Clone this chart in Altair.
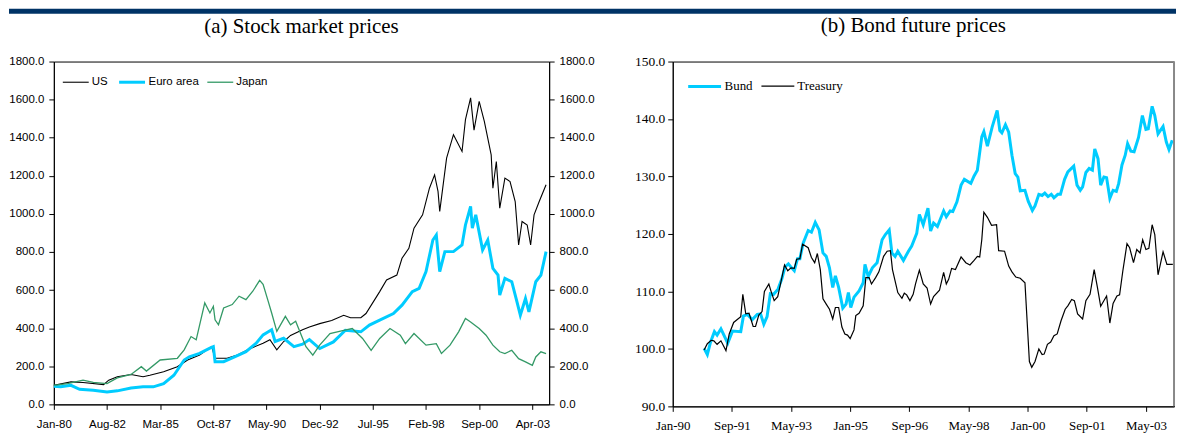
import altair as alt
import pandas as pd

# ---------------- Panel (a): stock market prices (months since Jan-80) ----------------
a_tick_pos = [0, 31, 62, 93, 124, 155, 186, 217, 248, 279]
a_tick_labels = ["Jan-80", "Aug-82", "Mar-85", "Oct-87", "May-90", "Dec-92",
                 "Jul-95", "Feb-98", "Sep-00", "Apr-03"]
a_series = ["US", "Euro area", "Japan"]

us_m = [0, 10, 17, 29, 32, 37, 45, 52, 56, 64, 72, 78, 85, 92, 94, 101, 107, 114, 122, 126,
        130, 134, 138, 145, 149, 155, 162, 169, 173, 179, 182, 190, 194, 200, 203, 207, 210,
        215, 219, 222, 224, 225, 229, 233, 238, 240, 243, 245, 248, 251, 255, 256, 258, 260,
        263, 266, 269, 271, 273, 276, 278, 280, 283, 287]
us_v = [100, 118, 115, 104, 127, 145, 157, 145, 153, 171, 198, 233, 259, 303, 242, 242, 259,
        291, 321, 339, 286, 330, 362, 392, 406, 424, 440, 468, 455, 455, 477, 592, 653, 679,
        767, 819, 925, 995, 1135, 1205, 1118, 1013, 1293, 1416, 1328, 1495, 1609, 1440, 1591,
        1486, 1310, 1135, 1275, 1030, 1188, 1170, 1065, 837, 960, 942, 837, 995, 1065, 1153]

eu_m = [0, 4, 10, 15, 23, 31, 37, 45, 52, 58, 64, 70, 76, 79, 85, 91, 93, 94, 99, 107, 112,
        118, 122, 127, 129, 134, 140, 145, 149, 155, 163, 170, 179, 184, 190, 198, 203, 209,
        213, 217, 221, 223, 225, 228, 233, 238, 240, 243, 244, 246, 250, 253, 256, 259, 260,
        263, 267, 270, 272, 275, 277, 281, 284, 287]
eu_v = [95, 92, 100, 79, 74, 65, 71, 86, 92, 92, 109, 153, 233, 250, 268, 295, 303, 224, 224,
        256, 277, 321, 365, 392, 330, 347, 303, 316, 340, 293, 328, 389, 381, 416, 442, 477,
        521, 592, 609, 697, 863, 889, 697, 802, 802, 837, 942, 1039, 925, 995, 811, 863, 714,
        679, 574, 662, 644, 539, 468, 556, 486, 644, 679, 802]

jp_m = [0, 8, 17, 23, 31, 37, 45, 51, 54, 62, 72, 76, 80, 83, 88, 91, 93, 94, 96, 99, 104,
        108, 112, 116, 120, 122, 125, 127, 130, 135, 138, 141, 145, 147, 151, 155, 161, 169,
        174, 180, 185, 190, 196, 202, 205, 210, 217, 223, 226, 231, 236, 240, 243, 248, 252,
        256, 260, 263, 267, 271, 275, 279, 281, 284, 287]
jp_v = [100, 109, 127, 115, 109, 139, 157, 198, 175, 233, 242, 286, 356, 339, 533, 480, 515,
        444, 418, 506, 524, 568, 550, 594, 651, 630, 541, 480, 383, 462, 418, 436, 347, 303,
        258, 311, 372, 389, 398, 346, 284, 346, 398, 363, 319, 372, 311, 319, 267, 311, 381,
        451, 433, 398, 363, 311, 276, 267, 284, 240, 223, 205, 249, 276, 267]

a_y_ticks = [0, 200, 400, 600, 800, 1000, 1200, 1400, 1600, 1800]

# ---------------- Panel (b): bond future prices (months since Jan-90) ----------------
b_tick_pos = [0, 20, 40, 60, 80, 100, 120, 140, 160]
b_tick_labels = ["Jan-90", "Sep-91", "May-93", "Jan-95", "Sep-96", "May-98",
                 "Jan-00", "Sep-01", "May-03"]
b_series = ["Bund", "Treasury"]

bund_m = [10.6, 11.7, 12.8, 14.1, 15, 16.3, 18.6, 20.2, 23, 23.9, 25.2, 26.9, 28.6, 29.7,
          30.8, 31.9, 33, 34.1, 35.6, 36.9, 38, 39.1, 40.2, 41.1, 42.2, 43, 44.1, 45.8, 46.9,
          48.2, 49.5, 50.8, 51.9, 53, 54.1, 55, 56.1, 57.5, 58.6, 59.4, 60.2, 61.3, 63, 64.4,
          65, 66.1, 67.5, 69.1, 70.8, 71.9, 73.2, 74.1, 75.2, 76.1, 78, 79.7, 80.8, 82.5, 83.4,
          84.7, 86.3, 87.2, 88.2, 89.5, 91.6, 92.5, 93.8, 94.7, 96.1, 97.5, 98.6, 100.8, 101.9,
          103, 104.5, 105.2, 106.4, 108, 109.7, 110.6, 111.3, 112.5, 113.6, 114.7, 115.8,
          116.7, 117.5, 119.1, 120.2, 121.6, 122.5, 123.8, 124.9, 125.8, 126.9, 128, 128.9,
          130.2, 131.1, 132.5, 133.6, 135.6, 136.7, 137.8, 138.6, 139.7, 140.8, 141.9, 142.7,
          143.8, 144.7, 145.8, 146.7, 147.8, 148.9, 150, 150.8, 151.9, 153, 153.8, 154.9, 156,
          157.5, 158.8, 160, 160.8, 162.1, 163, 164.1, 165.8, 166.9, 167.8, 168.9]
bund_v = [100.1, 99.0, 101.2, 103.0, 102.4, 103.5, 101.0, 103.1, 103.0, 105.7, 106.0, 105.1,
          106.0, 106.1, 104.3, 105.6, 109.6, 109.5, 110.4, 112.2, 114.3, 114.8, 114.1, 113.6,
          115.7, 115.7, 118.4, 120.6, 120.3, 122.0, 120.7, 116.7, 116.1, 114.1, 110.7, 112.7,
          110.7, 107.1, 107.8, 109.8, 107.2, 109.0, 110.1, 111.5, 114.7, 112.6, 114.1, 115.0,
          119.0, 119.9, 120.7, 116.7, 116.1, 117.0, 115.4, 117.0, 117.9, 120.1, 123.4, 121.6,
          124.5, 120.5, 121.9, 121.3, 124.0, 123.0, 124.0, 123.9, 125.6, 128.5, 129.5, 128.8,
          130.1, 131.1, 136.9, 137.8, 135.3, 138.6, 141.5, 138.0, 137.6, 139.0, 137.7, 133.7,
          130.5, 129.9, 127.5, 127.6, 125.7, 124.1, 124.9, 126.9, 126.7, 127.1, 126.5, 126.9,
          126.3, 126.9, 126.9, 129.5, 130.8, 131.8, 128.5, 127.6, 128.2, 130.7, 131.4, 131.1,
          134.8, 133.1, 128.5, 129.9, 129.8, 126.2, 127.6, 127.4, 128.8, 132.0, 133.7, 135.7,
          134.4, 134.3, 136.8, 140.6, 138.2, 138.3, 142.2, 140.6, 137.4, 138.7, 136.0, 134.7,
          136.3]

tsy_m = [10.6, 11.7, 13, 13.9, 15, 16.3, 18, 19.1, 20.6, 23, 23.7, 24.7, 25.8, 27.2, 28, 29.1,
         30.2, 31, 32.5, 33.2, 34.3, 35.5, 36.9, 37.8, 38.9, 40, 41.1, 41.9, 43, 43.9, 45.8,
         46.9, 48, 48.9, 49.9, 50.8, 51.9, 53, 54.1, 55, 56.1, 57.2, 58.2, 59.1, 60, 61.3, 61.9,
         63, 64.4, 65.3, 66.4, 67.2, 68.6, 69.7, 71.3, 72.5, 73.6, 74.3, 75.2, 76.1, 77.5, 78.3,
         79.1, 80.2, 81.3, 82.1, 83.4, 84.7, 86, 87.2, 88.2, 90.2, 91.6, 92.5, 93.3, 94.3, 95.6,
         97.5, 99.1, 100.5, 101.9, 103, 103.8, 104.5, 105.2, 106.4, 107.8, 109.5, 110.2, 112.2,
         113.6, 114.7, 116, 117.5, 119.1, 120.6, 121.4, 122.5, 123.8, 124.9, 125.6, 126.7,
         127.8, 128.9, 130, 131.3, 132.7, 133.6, 134.9, 135.8, 136.9, 138.6, 139.7, 141.1,
         142.5, 143.6, 144.7, 146.7, 147.8, 148.9, 150.2, 151.1, 152.2, 153.6, 154.5, 155.8,
         156.9, 158, 158.9, 160, 161, 162.1, 163, 164.1, 165.8, 167.1, 169.1]
tsy_v = [99.8, 100.9, 101.5, 101.4, 100.8, 101.4, 99.7, 102.6, 104.6, 105.6, 109.5, 106.1,
         106.2, 103.9, 103.9, 105.9, 106.5, 110.0, 111.3, 110.1, 108.4, 109.1, 112.4, 114.6,
         113.6, 114.1, 114.0, 115.6, 115.7, 118.2, 117.6, 115.9, 115.0, 116.6, 113.8, 108.7,
         107.8, 106.9, 105.2, 107.2, 107.2, 103.8, 102.6, 102.4, 101.8, 103.3, 105.8, 106.2,
         107.5, 112.4, 112.4, 111.3, 112.4, 113.4, 116.1, 117.0, 117.1, 113.8, 111.8, 109.8,
         108.8, 109.7, 109.4, 108.4, 109.5, 111.3, 113.7, 111.3, 110.6, 107.8, 109.1, 110.2,
         113.3, 111.3, 112.1, 114.0, 113.8, 116.0, 115.0, 114.6, 115.4, 116.1, 116.0, 119.0,
         123.8, 122.9, 121.5, 121.6, 117.1, 117.0, 114.4, 113.4, 112.5, 112.3, 111.5, 97.8,
         96.8, 97.8, 100.0, 99.0, 99.1, 100.8, 101.2, 102.3, 102.6, 104.9, 106.9, 107.5, 108.6,
         108.4, 106.1, 105.2, 108.4, 109.5, 113.8, 110.7, 107.4, 109.2, 104.5, 107.9, 109.2,
         109.4, 113.6, 118.3, 117.6, 115.0, 117.3, 116.7, 119.0, 117.3, 117.5, 121.6, 119.9,
         112.9, 116.9, 114.7, 114.7]

b_y_ticks = [90, 100, 110, 120, 130, 140, 150]

# ---------------- styling constants ----------------
NAVY = "#003366"
CYAN = "#00CCFF"
GREEN = "#339966"
SANS = "Liberation Sans"
SERIF = "Liberation Serif"
WA, HA = 497, 344
WB, HB = 503, 346
LEFT = 45          # room left of panel (a) plot for its labels
TOTAL_W = 1171     # whole chart width (must fit the page)


def long_df(names, ms, vs):
    rows = []
    for name, m_list, v_list in zip(names, ms, vs):
        for m, v in zip(m_list, v_list):
            rows.append({"series": name, "m": m, "v": v})
    return pd.DataFrame(rows)


def label_expr(pos, labels):
    step = pos[1] - pos[0]
    arr = "[" + ",".join("'" + s + "'" for s in labels) + "]"
    return f"{arr}[round(datum.value / {step})]"


df_a = long_df(a_series, [us_m, eu_m, jp_m], [us_v, eu_v, jp_v])
df_b = long_df(b_series, [bund_m, tsy_m], [bund_v, tsy_v])

# ---------------- panel (a) ----------------
xa = alt.X("m:Q", title=None,
           scale=alt.Scale(domain=[0, 288.8], nice=False, zero=False),
           axis=alt.Axis(values=a_tick_pos, labelExpr=label_expr(a_tick_pos, a_tick_labels),
                         labelFont=SANS, labelFontSize=11.5, labelPadding=9, tickSize=5,
                         labelOverlap=False, labelFlush=False, labelColor="black",
                         tickColor="black", domainColor="black"))
ya_scale = alt.Scale(domain=[0, 1800], nice=False, zero=False)
ya_axis_common = dict(values=a_y_ticks, format=".1f", labelFont=SANS, labelFontSize=11.5,
                      tickSize=5, labelPadding=5, labelColor="black", tickColor="black",
                      domainColor="black", title=None, labelOverlap=False, labelFlush=False)

leg_a = alt.Legend(title=None, orient="none", legendX=8, legendY=6, direction="horizontal",
                   symbolType="stroke", symbolSize=676, labelFont=SANS, labelFontSize=11.5,
                   labelColor="black", labelOffset=2, columnPadding=5, padding=0)

lines_a = alt.Chart(df_a).mark_line().encode(
    x=xa,
    y=alt.Y("v:Q", scale=ya_scale, axis=alt.Axis(orient="left", **ya_axis_common)),
    color=alt.Color("series:N", sort=a_series,
                    scale=alt.Scale(domain=a_series, range=["black", CYAN, GREEN]),
                    legend=leg_a),
    strokeWidth=alt.StrokeWidth("series:N", sort=a_series,
                                scale=alt.Scale(type="ordinal", domain=a_series,
                                                range=[1.1, 3, 1.3]),
                                legend=leg_a),
)
right_a = alt.Chart(df_a).mark_line(opacity=0).encode(
    x=alt.X("m:Q", scale=alt.Scale(domain=[0, 288.8], nice=False, zero=False)),
    y=alt.Y("v:Q", scale=ya_scale, axis=alt.Axis(orient="right", **ya_axis_common)),
    detail="series:N",
)
panel_a = alt.layer(lines_a, right_a).resolve_axis(y="independent").properties(
    width=WA, height=HA,
    title=alt.TitleParams("(a) Stock market prices", font=SERIF, fontSize=21,
                          fontWeight="normal", color="black", anchor="middle", offset=19),
)

# ---------------- panel (b) ----------------
xb = alt.X("m:Q", title=None,
           scale=alt.Scale(domain=[0, 169.5], nice=False, zero=False),
           axis=alt.Axis(values=b_tick_pos, labelExpr=label_expr(b_tick_pos, b_tick_labels),
                         labelFont=SERIF, labelFontSize=13, labelPadding=8, tickSize=5,
                         labelOverlap=False, labelFlush=False, labelColor="black",
                         tickColor="black", domainColor="black"))
yb = alt.Y("v:Q", title=None, scale=alt.Scale(domain=[90, 150], nice=False, zero=False),
           axis=alt.Axis(values=b_y_ticks, format=".1f", labelFont=SERIF, labelFontSize=13.5,
                         tickSize=5, labelPadding=3, labelColor="black", tickColor="black",
                         domainColor="black", labelOverlap=False, labelFlush=False))
leg_b = alt.Legend(title=None, orient="none", legendX=14, legendY=7, direction="horizontal",
                   symbolType="stroke", symbolSize=1089, labelFont=SERIF, labelFontSize=13,
                   labelColor="black", labelOffset=2, columnPadding=5, padding=0)
lines_b = alt.Chart(df_b).mark_line().encode(
    x=xb, y=yb,
    color=alt.Color("series:N", sort=b_series,
                    scale=alt.Scale(domain=b_series, range=[CYAN, "black"]), legend=leg_b),
    strokeWidth=alt.StrokeWidth("series:N", sort=b_series,
                                scale=alt.Scale(type="ordinal", domain=b_series,
                                                range=[3, 1.2]),
                                legend=leg_b),
)
edge_b = alt.Chart(pd.DataFrame({"k": [0]})).mark_rule(color="#888888", strokeWidth=2).encode(
    x=alt.value(WB), y=alt.value(0), y2=alt.value(HB))
panel_b = alt.layer(lines_b, edge_b).properties(
    width=WB, height=HB,
    title=alt.TitleParams("(b) Bond future prices", font=SERIF, fontSize=21,
                          fontWeight="normal", color="black", anchor="middle", offset=19,
                          dx=-10),
)

panels = alt.hconcat(panel_a, panel_b, spacing=124, bounds="flush").resolve_scale(
    color="independent", strokeWidth="independent"
).resolve_legend(color="independent", strokeWidth="independent")

bar = alt.Chart(pd.DataFrame({"k": [0]})).mark_rect(color=NAVY).encode(
    x=alt.value(-LEFT), x2=alt.value(TOTAL_W - LEFT), y=alt.value(0), y2=alt.value(5)
).properties(width=WA, height=5, view=alt.ViewBackground(strokeOpacity=0))

chart = alt.vconcat(bar, panels, spacing=0).configure(
    padding=0, background="white"
).configure_view(stroke="black", strokeWidth=1).configure_axis(grid=False)

chart.save("out.html", embed_options={"renderer": "svg", "actions": False})
